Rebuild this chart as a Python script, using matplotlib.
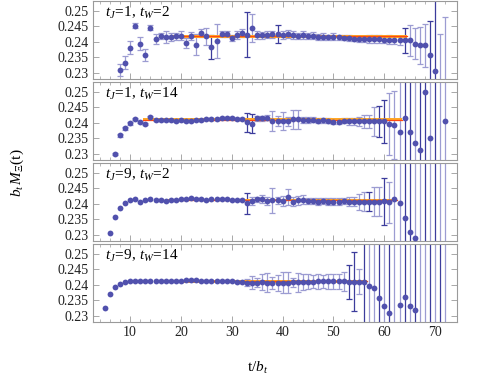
import numpy as np
import matplotlib
matplotlib.use("Agg")
from matplotlib import pyplot as plt

# effective mass values per panel, t runs from t_start to 72
labels = [r"$t_J\!=\!1,\,t_W\!=\!2$", r"$t_J\!=\!1,\,t_W\!=\!14$",
          r"$t_J\!=\!9,\,t_W\!=\!2$", r"$t_J\!=\!9,\,t_W\!=\!14$"]
t_start = [8, 7, 6, 5]

m_1_2 = [0.2309, 0.2333, 0.2380, 0.2452, 0.2394, 0.2356, 0.2445, 0.2409, 0.2419, 0.2415,
         0.2415, 0.2417, 0.2419, 0.2397, 0.2417, 0.2391, 0.2427, 0.2417, 0.2383, 0.2402,
         0.2424, 0.2424, 0.2412, 0.2422, 0.2427, 0.2422, 0.2445, 0.2421, 0.2421, 0.2422,
         0.2424, 0.2425, 0.2422, 0.2424, 0.2422, 0.2419, 0.2422, 0.2419, 0.2419, 0.2416,
         0.2416, 0.2414, 0.2416, 0.2414, 0.2412, 0.2412, 0.2410, 0.2409, 0.2409, 0.2409,
         0.2409, 0.2409, 0.2407, 0.2407, 0.2404, 0.2404, 0.2404, 0.2404, 0.2393, 0.2388,
         0.2388, 0.2356, 0.2306, 0.2200, 0.2240]
e_1_2 = [0.0020, 0.0020, 0.0021, 0.0009, 0.0022, 0.0019, 0.0008, 0.0015, 0.0009, 0.0018,
         0.0013, 0.0012, 0.0015, 0.0016, 0.0013, 0.0034, 0.0013, 0.0027, 0.0040, 0.0055,
         0.0009, 0.0010, 0.0011, 0.0012, 0.0013, 0.0072, 0.0045, 0.0013, 0.0011, 0.0011,
         0.0012, 0.0029, 0.0012, 0.0013, 0.0014, 0.0010, 0.0012, 0.0009, 0.0011, 0.0010,
         0.0012, 0.0008, 0.0012, 0.0009, 0.0008, 0.0009, 0.0008, 0.0009, 0.0010, 0.0012,
         0.0012, 0.0012, 0.0012, 0.0013, 0.0012, 0.0015, 0.0040, 0.0050, 0.0050, 0.0060,
         0.0070, 0.0110, 0.0300, 0.0226, 0.0238]

m_1_14 = [0.2300, 0.2359, 0.2382, 0.2398, 0.2412, 0.2403, 0.2396, 0.2419, 0.2409, 0.2409,
          0.2409, 0.2409, 0.2406, 0.2409, 0.2404, 0.2407, 0.2409, 0.2409, 0.2413, 0.2411,
          0.2412, 0.2416, 0.2414, 0.2414, 0.2412, 0.2413, 0.2401, 0.2397, 0.2414, 0.2414,
          0.2416, 0.2406, 0.2406, 0.2406, 0.2404, 0.2411, 0.2411, 0.2409, 0.2409, 0.2409,
          0.2406, 0.2408, 0.2406, 0.2403, 0.2403, 0.2406, 0.2404, 0.2404, 0.2404, 0.2404,
          0.2404, 0.2404, 0.2404, 0.2404, 0.2396, 0.2393, 0.2371, 0.2414, 0.2371, 0.2334,
          0.2311, 0.2499, 0.2350, 0.2610, 0.2150, 0.2406]
e_1_14 = [0.0004, 0.0004, 0.0004, 0.0004, 0.0004, 0.0004, 0.0004, 0.0004, 0.0003, 0.0003,
          0.0003, 0.0003, 0.0003, 0.0003, 0.0003, 0.0003, 0.0003, 0.0003, 0.0003, 0.0003,
          0.0003, 0.0003, 0.0003, 0.0003, 0.0003, 0.0003, 0.0030, 0.0030, 0.0008, 0.0007,
          0.0008, 0.0032, 0.0015, 0.0030, 0.0015, 0.0030, 0.0030, 0.0010, 0.0010, 0.0008,
          0.0008, 0.0008, 0.0008, 0.0008, 0.0008, 0.0008, 0.0010, 0.0012, 0.0015, 0.0020,
          0.0020, 0.0047, 0.0050, 0.0070, 0.0100, 0.0110, 0.0400, 0.0400, 0.0400, 0.0400,
          0.0400, 0.0400, 0.0400, 0.0500, 0.0500, 0.0400]

m_9_2 = [0.2305, 0.2358, 0.2387, 0.2401, 0.2411, 0.2416, 0.2406, 0.2413, 0.2415, 0.2413,
         0.2413, 0.2409, 0.2413, 0.2413, 0.2415, 0.2415, 0.2418, 0.2415, 0.2415, 0.2413,
         0.2415, 0.2415, 0.2416, 0.2415, 0.2413, 0.2413, 0.2413, 0.2402, 0.2409, 0.2415,
         0.2415, 0.2409, 0.2411, 0.2411, 0.2409, 0.2421, 0.2407, 0.2411, 0.2413, 0.2409,
         0.2409, 0.2407, 0.2409, 0.2407, 0.2407, 0.2407, 0.2409, 0.2407, 0.2407, 0.2405,
         0.2407, 0.2407, 0.2407, 0.2406, 0.2408, 0.2404, 0.2416, 0.2402, 0.2355, 0.2310,
         0.2291, 0.2620, 0.2140, 0.2630, 0.2150, 0.2620, 0.2160]
e_9_2 = [0, 0, 0, 0, 0, 0, 0, 0, 0, 0,
         0, 0, 0, 0, 0, 0, 0, 0, 0, 0,
         0, 0, 0, 0, 0, 0, 0, 0.0034, 0.0012, 0.0008,
         0.0012, 0.0012, 0.0040, 0.0012, 0.0015, 0.0025, 0.0015, 0.0015, 0.0015, 0.0010,
         0.0010, 0.0010, 0.0010, 0.0010, 0.0010, 0.0010, 0.0010, 0.0015, 0.0015, 0.0025,
         0.0030, 0.0030, 0.0047, 0.0047, 0.0075, 0.0065, 0.0400, 0.0400, 0.0400, 0.0400,
         0.0400, 0.0500, 0.0500, 0.0500, 0.0500, 0.0500, 0.0500]

m_9_14 = [0.2325, 0.2369, 0.2392, 0.2403, 0.2409, 0.2411, 0.2412, 0.2412, 0.2412, 0.2412,
          0.2412, 0.2412, 0.2412, 0.2412, 0.2413, 0.2413, 0.2414, 0.2414, 0.2414, 0.2413,
          0.2413, 0.2413, 0.2413, 0.2412, 0.2412, 0.2411, 0.2410, 0.2409, 0.2407, 0.2407,
          0.2407, 0.2408, 0.2407, 0.2406, 0.2406, 0.2407, 0.2407, 0.2408, 0.2408, 0.2409,
          0.2410, 0.2410, 0.2411, 0.2411, 0.2411, 0.2411, 0.2411, 0.2411, 0.2410, 0.2410,
          0.2409, 0.2408, 0.2397, 0.2388, 0.2357, 0.2330, 0.2309, 0.2260, 0.2335, 0.2362,
          0.2330, 0.2319, 0.2620, 0.2140, 0.2630, 0.2150, 0.2620, 0.2160]
e_9_14 = [0, 0, 0, 0, 0, 0, 0, 0, 0, 0,
          0, 0, 0, 0, 0, 0, 0, 0, 0, 0,
          0, 0, 0, 0, 0, 0, 0, 0.0004, 0.0010, 0.0020,
          0.0015, 0.0025, 0.0030, 0.0020, 0.0025, 0.0035, 0.0035, 0.0015, 0.0030, 0.0025,
          0.0025, 0.0020, 0.0025, 0.0020, 0.0025, 0.0025, 0.0025, 0.0030, 0.0055, 0.0095,
          0.0040, 0.0400, 0.0400, 0.0400, 0.0400, 0.0400, 0.0400, 0.0400, 0.0400, 0.0400,
          0.0400, 0.0400, 0.0500, 0.0500, 0.0500, 0.0500, 0.0500, 0.0500]

masses = [m_1_2, m_1_14, m_9_2, m_9_14]
errors = [e_1_2, e_1_14, e_9_2, e_9_14]

# time slices whose error bars are drawn in the darker shade
dark_t = [[26, 33, 39, 64, 69, 70],
          [33, 34, 59, 60, 64, 65, 67, 68, 70],
          [33, 57, 60, 64, 65, 68, 70],
          [53, 54, 56, 59, 61, 64, 66, 69, 71]]

# plateau fits: (t_min, t_max), value, error
fit_range = [(18.5, 64.5), (12.5, 63.5), (17.5, 62.5), (19.5, 56.5)]
fit_value = [0.2418, 0.2409, 0.2412, 0.2411]
fit_error = [0.0005, 0.0005, 0.0004, 0.0004]

plt.rcParams['font.family'] = 'Liberation Serif'
plt.rcParams['mathtext.fontset'] = 'custom'
plt.rcParams['mathtext.rm'] = 'Liberation Serif'
plt.rcParams['mathtext.it'] = 'Liberation Serif:italic'

pt_color = '#5151ad'
light_bar = '#9c9cd2'
dark_bar = '#3c3c9c'
frame = '#9a9a9a'

fig = plt.figure(figsize=(4.98, 3.88), dpi=100)
W, H = 498.0, 388.0
left, right = 93, 457
tops = [1, 82, 163, 244]
ph = 78

yticks = [0.23, 0.235, 0.24, 0.245, 0.25]
yticklabels = ['0.23', '0.235', '0.24', '0.245', '0.25']

for i in range(4):
    ax = fig.add_axes([left / W, 1 - (tops[i] + ph) / H, (right - left) / W, ph / H])
    t = np.arange(t_start[i], 73)
    m = np.array(masses[i])
    e = np.array(errors[i])

    # error bars, light and dark
    isdark = np.isin(t, dark_t[i])
    sel = (e > 0) & ~isdark
    ax.errorbar(t[sel], m[sel], yerr=e[sel], fmt='none', ecolor=light_bar,
                elinewidth=0.9, capsize=2.5, capthick=0.9, zorder=2)
    sel = (e > 0) & isdark
    ax.errorbar(t[sel], m[sel], yerr=e[sel], fmt='none', ecolor=dark_bar,
                elinewidth=0.9, capsize=2.5, capthick=0.9, zorder=2.2)

    # fit band
    a, b = fit_range[i]
    ax.fill_between([a, b], fit_value[i] - fit_error[i], fit_value[i] + fit_error[i],
                    color='#ffa826', lw=0, zorder=2.5)
    ax.plot([a, b], [fit_value[i], fit_value[i]], color='#ff4a10', lw=0.9, zorder=2.6)

    ax.plot(t, m, 'o', color=pt_color, ms=4.2, mec='none', zorder=3)

    ax.set_xlim(2.7, 74.3)
    ax.set_ylim(0.228, 0.2531)
    ax.set_xticks(range(10, 71, 10))
    ax.set_xticks(range(4, 74, 2), minor=True)
    ax.set_yticks(yticks)
    ax.set_yticklabels(yticklabels)
    ax.tick_params(direction='in', top=True, right=True, length=4, width=0.6,
                   color=frame, labelsize=10, labelcolor='#222222', pad=3)
    ax.tick_params(which='minor', direction='in', top=True, right=True, length=2,
                   width=0.5, color=frame)
    if i < 3:
        ax.set_xticklabels([])
    for s in ax.spines.values():
        s.set_color(frame)
        s.set_linewidth(0.8)
    ax.text(0.033, 0.95, labels[i], transform=ax.transAxes, fontsize=11,
            va='top', ha='left')

fig.text(0.035, 0.555, r"$b_t\,M_{\Xi}(\mathrm{t})$", rotation=90, fontsize=11,
         ha='center', va='center')
fig.text(258 / W, 1 - 368 / H, r"$\mathrm{t}/b_t$", fontsize=11, ha='center', va='center')

fig.savefig('out.png', dpi=100)
